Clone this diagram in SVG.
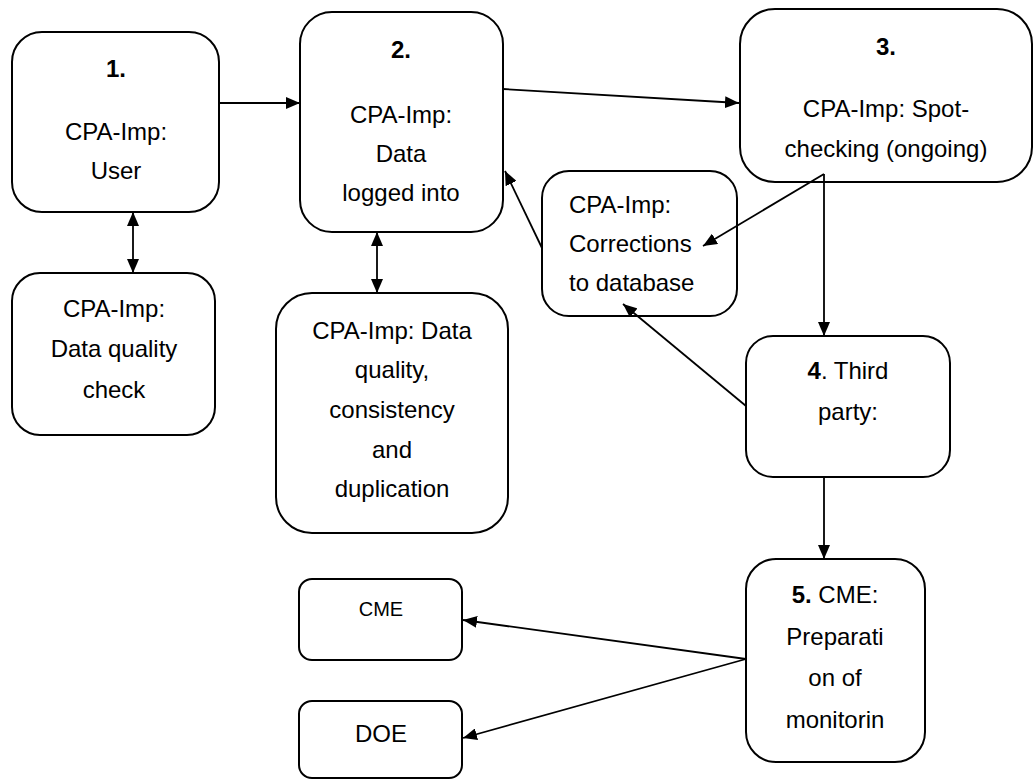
<svg xmlns="http://www.w3.org/2000/svg" width="1035" height="780" viewBox="0 0 1035 780">
  <style>
    .box { fill: #fff; stroke: #000; stroke-width: 2; }
    .lbl { font-family: "Liberation Sans", Arial, sans-serif; font-size: 24px; fill: #000; text-anchor: middle; }
    .left { text-anchor: start; }
    .num { font-weight: bold; }
    .small { font-size: 20px; }
    .conn { fill: none; stroke: #000; stroke-width: 1.8; }
  </style>
  <defs>
    <marker id="arrow" viewBox="0 0 14 12" refX="14" refY="6" markerUnits="userSpaceOnUse" markerWidth="14" markerHeight="12" orient="auto-start-reverse">
      <path d="M0,0 L14,6 L0,12 z" fill="#000"/>
    </marker>
  </defs>

  <rect width="1035" height="780" fill="#fff"/>

  <!-- step 1 -->
  <g id="step1">
    <rect class="box" x="12" y="32" width="207" height="180" rx="30"/>
    <text class="lbl num" x="116" y="77">1.</text>
    <text class="lbl" x="116" y="140">CPA-Imp:</text>
    <text class="lbl" x="116" y="179">User</text>
  </g>

  <!-- step 2 -->
  <g id="step2">
    <rect class="box" x="300" y="12" width="203" height="220" rx="32"/>
    <text class="lbl num" x="401" y="58">2.</text>
    <text class="lbl" x="401" y="123">CPA-Imp:</text>
    <text class="lbl" x="401" y="162">Data</text>
    <text class="lbl" x="401" y="201">logged into</text>
  </g>

  <!-- step 3 -->
  <g id="step3">
    <rect class="box" x="740" y="9" width="292" height="173" rx="35"/>
    <text class="lbl num" x="886" y="55">3.</text>
    <text class="lbl" x="886" y="117">CPA-Imp: Spot-</text>
    <text class="lbl" x="886" y="157">checking (ongoing)</text>
  </g>

  <!-- corrections -->
  <g id="corrections">
    <rect class="box" x="542" y="171" width="195" height="145" rx="27"/>
    <text class="lbl left" x="569" y="213">CPA-Imp:</text>
    <text class="lbl left" x="569" y="252">Corrections</text>
    <text class="lbl left" x="569" y="291">to database</text>
  </g>

  <!-- quality check after step 1 -->
  <g id="quality-check">
    <rect class="box" x="12" y="273" width="203" height="162" rx="28"/>
    <text class="lbl" x="114" y="317">CPA-Imp:</text>
    <text class="lbl" x="114" y="357">Data quality</text>
    <text class="lbl" x="114" y="398">check</text>
  </g>

  <!-- quality / consistency / duplication -->
  <g id="quality-consistency">
    <rect class="box" x="276" y="293" width="232" height="240" rx="36"/>
    <text class="lbl" x="392" y="339">CPA-Imp: Data</text>
    <text class="lbl" x="392" y="378">quality,</text>
    <text class="lbl" x="392" y="418">consistency</text>
    <text class="lbl" x="392" y="458">and</text>
    <text class="lbl" x="392" y="497">duplication</text>
  </g>

  <!-- step 4 -->
  <g id="step4">
    <rect class="box" x="746" y="336" width="204" height="141" rx="27"/>
    <text class="lbl" x="848" y="379"><tspan class="num">4</tspan>. Third</text>
    <text class="lbl" x="848" y="420">party:</text>
  </g>

  <!-- step 5 -->
  <g id="step5">
    <rect class="box" x="746" y="559" width="179" height="203" rx="30"/>
    <text class="lbl" x="835" y="603"><tspan class="num">5.</tspan> CME:</text>
    <text class="lbl" x="835" y="645">Preparati</text>
    <text class="lbl" x="835" y="686">on of</text>
    <text class="lbl" x="835" y="728">monitorin</text>
  </g>

  <!-- recipients -->
  <g id="cme">
    <rect class="box" x="299" y="579" width="163" height="81" rx="13"/>
    <text class="lbl small" x="381" y="616">CME</text>
  </g>
  <g id="doe">
    <rect class="box" x="299" y="701" width="163" height="77" rx="13"/>
    <text class="lbl" x="381" y="742">DOE</text>
  </g>

  <!-- connectors, drawn last so heads ending inside a box stay visible -->
  <g id="connectors">
    <line class="conn" x1="219" y1="103" x2="300" y2="103" marker-end="url(#arrow)"/>
    <line class="conn" x1="503" y1="89" x2="739" y2="103" marker-end="url(#arrow)"/>
    <line class="conn" x1="133" y1="212" x2="133" y2="273" marker-start="url(#arrow)" marker-end="url(#arrow)"/>
    <line class="conn" x1="377" y1="232" x2="377" y2="293" marker-start="url(#arrow)" marker-end="url(#arrow)"/>
    <line class="conn" x1="824" y1="174" x2="703" y2="246" marker-end="url(#arrow)"/>
    <line class="conn" x1="824" y1="174" x2="824" y2="336" marker-end="url(#arrow)"/>
    <line class="conn" x1="542" y1="248" x2="505" y2="171" marker-end="url(#arrow)"/>
    <line class="conn" x1="746" y1="406" x2="623" y2="304" marker-end="url(#arrow)"/>
    <line class="conn" x1="824" y1="477" x2="824" y2="559" marker-end="url(#arrow)"/>
    <line class="conn" x1="746" y1="659" x2="463" y2="620" marker-end="url(#arrow)"/>
    <line class="conn" x1="746" y1="659" x2="463" y2="738" marker-end="url(#arrow)"/>
  </g>
</svg>
